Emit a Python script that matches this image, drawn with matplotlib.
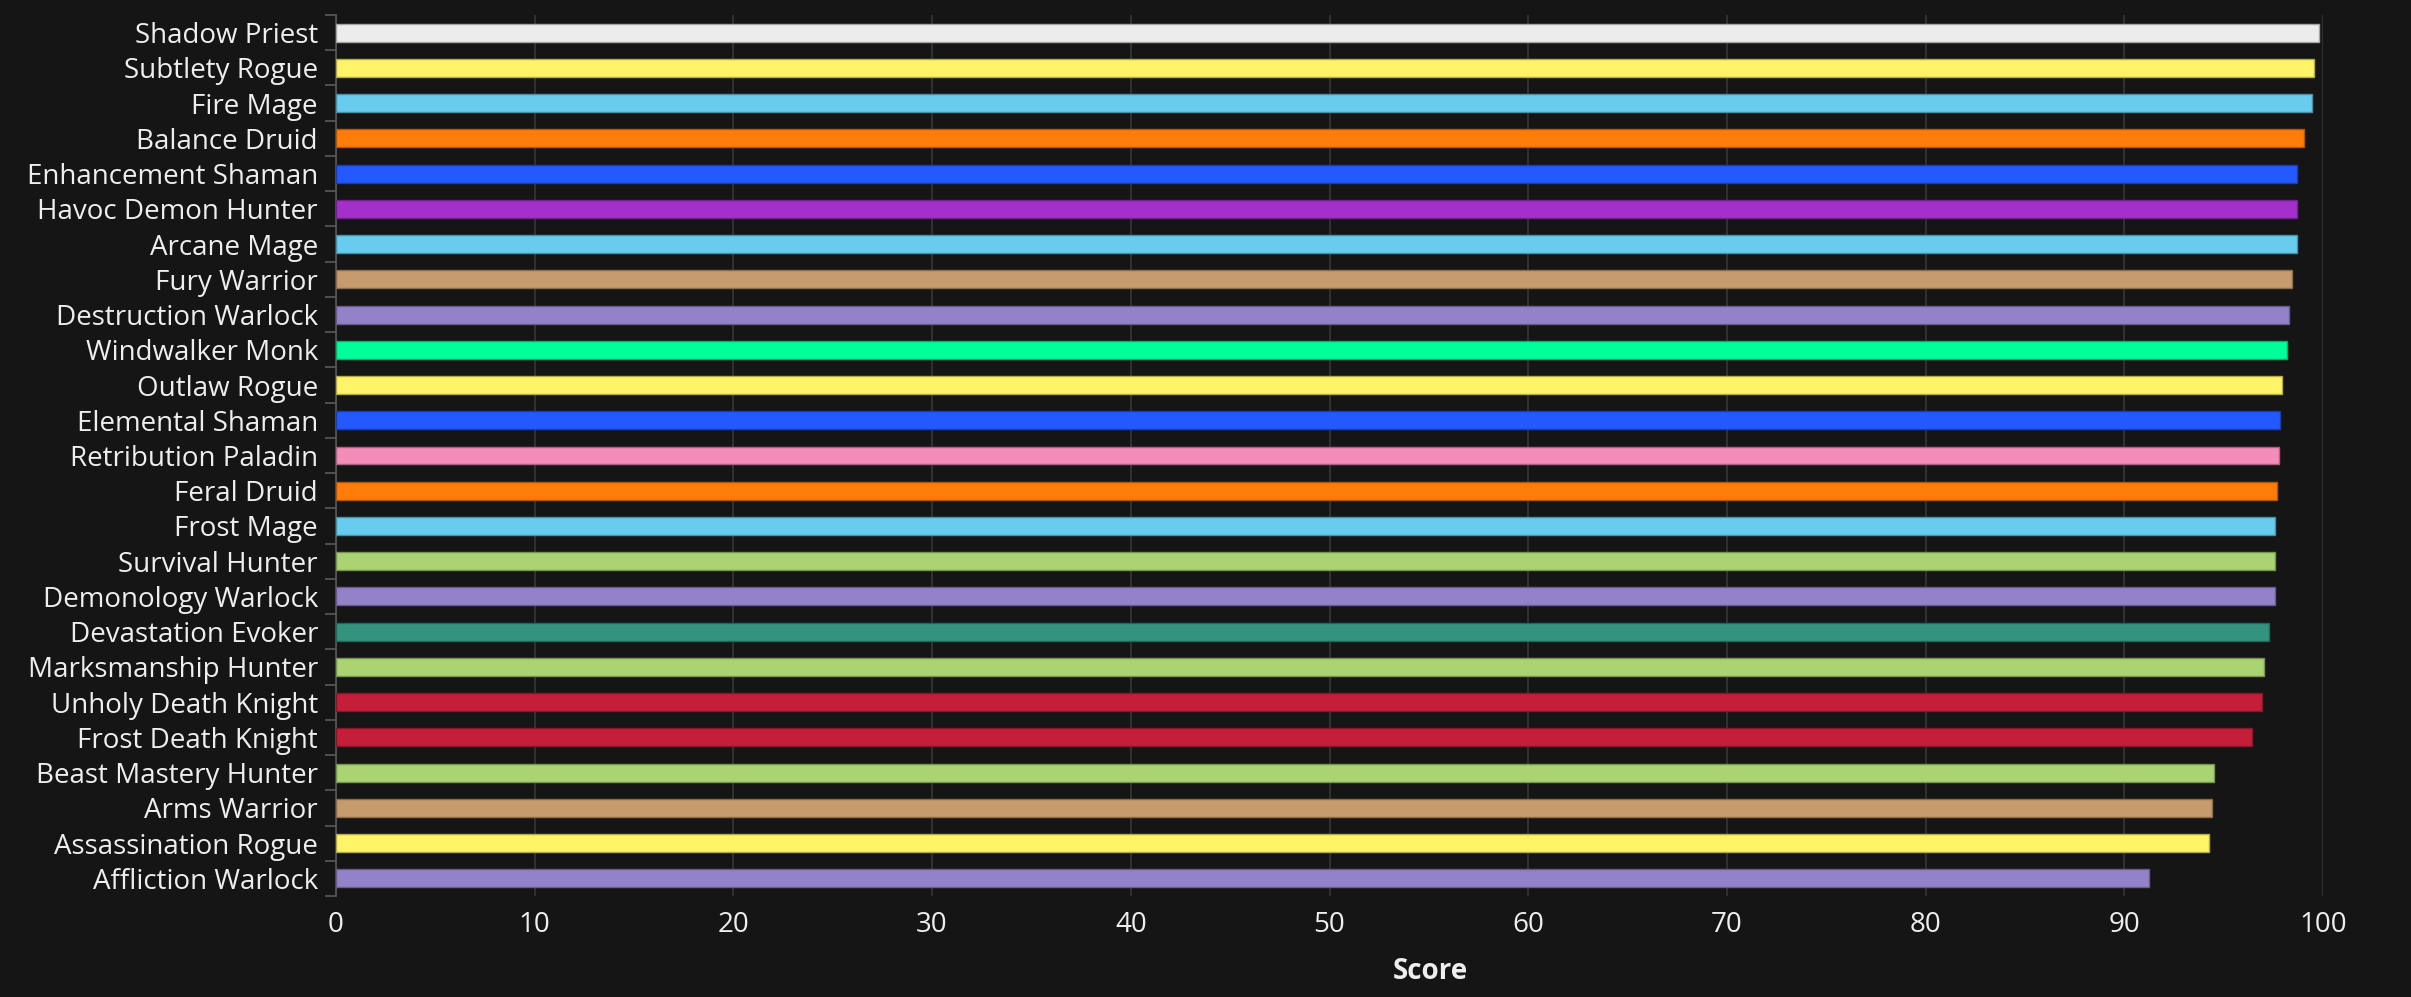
import matplotlib
matplotlib.use("Agg")
import matplotlib.pyplot as plt
from matplotlib.colors import to_rgb

specs = [
    "Shadow Priest", "Subtlety Rogue", "Fire Mage", "Balance Druid",
    "Enhancement Shaman", "Havoc Demon Hunter", "Arcane Mage", "Fury Warrior",
    "Destruction Warlock", "Windwalker Monk", "Outlaw Rogue", "Elemental Shaman",
    "Retribution Paladin", "Feral Druid", "Frost Mage", "Survival Hunter",
    "Demonology Warlock", "Devastation Evoker", "Marksmanship Hunter",
    "Unholy Death Knight", "Frost Death Knight", "Beast Mastery Hunter",
    "Arms Warrior", "Assassination Rogue", "Affliction Warlock",
]
scores = [
    99.80, 99.57, 99.45, 99.06, 98.69, 98.69, 98.69, 98.44, 98.31, 98.19,
    97.94, 97.82, 97.80, 97.69, 97.57, 97.57, 97.57, 97.30, 97.05, 96.93,
    96.41, 94.53, 94.41, 94.28, 91.26,
]
class_colors = {
    "Priest": "#ececec", "Rogue": "#fff468", "Mage": "#68ccef",
    "Druid": "#ff7c0a", "Shaman": "#2459ff", "Demon Hunter": "#a330c9",
    "Warrior": "#c69b6d", "Warlock": "#9482c9", "Monk": "#00ff98",
    "Paladin": "#f48cba", "Evoker": "#33937f", "Hunter": "#aad372",
    "Death Knight": "#c41e3a",
}
x_ticks = [0, 10, 20, 30, 40, 50, 60, 70, 80, 90, 100]


def spec_color(name):
    for cls in sorted(class_colors, key=len, reverse=True):
        if name.endswith(cls):
            return class_colors[cls]
    return "#888888"


BG = "#151515"
TXT = "#eeeeee"
GRID = "#333333"
AXIS = "#555555"
FS = 20

plt.rcParams["font.family"] = ["Open Sans", "DejaVu Sans"]

W, H = 2411, 997
fig = plt.figure(figsize=(W / 100, H / 100), dpi=100, facecolor=BG)
left, right, top, bottom = 336, 2323, 15, 896
ax = fig.add_axes([left / W, 1 - bottom / H, (right - left) / W, (bottom - top) / H])
ax.set_facecolor(BG)

ypos = list(range(len(specs)))
colors = [spec_color(s) for s in specs]
edges = [tuple(c * 0.7 for c in to_rgb(col)) for col in colors]
ax.barh(ypos, scores, height=0.51, color=colors, edgecolor=edges,
        linewidth=1.0, zorder=3)

ax.set_xlim(0, 100)
ax.set_ylim(len(specs) - 0.5, -0.5)

ax.set_xticks(x_ticks)
ax.set_xticklabels([str(t) for t in x_ticks])
ax.tick_params(axis="x", length=0, pad=11, labelsize=FS, labelcolor=TXT)
ax.grid(axis="x", color=GRID, linewidth=1.3, zorder=0)
ax.set_axisbelow(True)

ax.set_yticks(ypos)
ax.set_yticklabels(specs)
ax.tick_params(axis="y", which="major", length=0, pad=13, labelsize=FS,
               labelcolor=TXT)
ax.set_yticks([i - 0.5 for i in range(len(specs) + 1)], minor=True)
ax.tick_params(axis="y", which="minor", length=8, width=1.3, color=AXIS)

for side in ("top", "right", "bottom"):
    ax.spines[side].set_visible(False)
ax.spines["left"].set_color(AXIS)
ax.spines["left"].set_linewidth(1.3)

fig.text(1430 / W, 1 - 971 / H, "Score", ha="center", va="center",
         fontsize=FS, fontweight="bold", color=TXT)

fig.savefig("out.png", dpi=100, facecolor=BG)
